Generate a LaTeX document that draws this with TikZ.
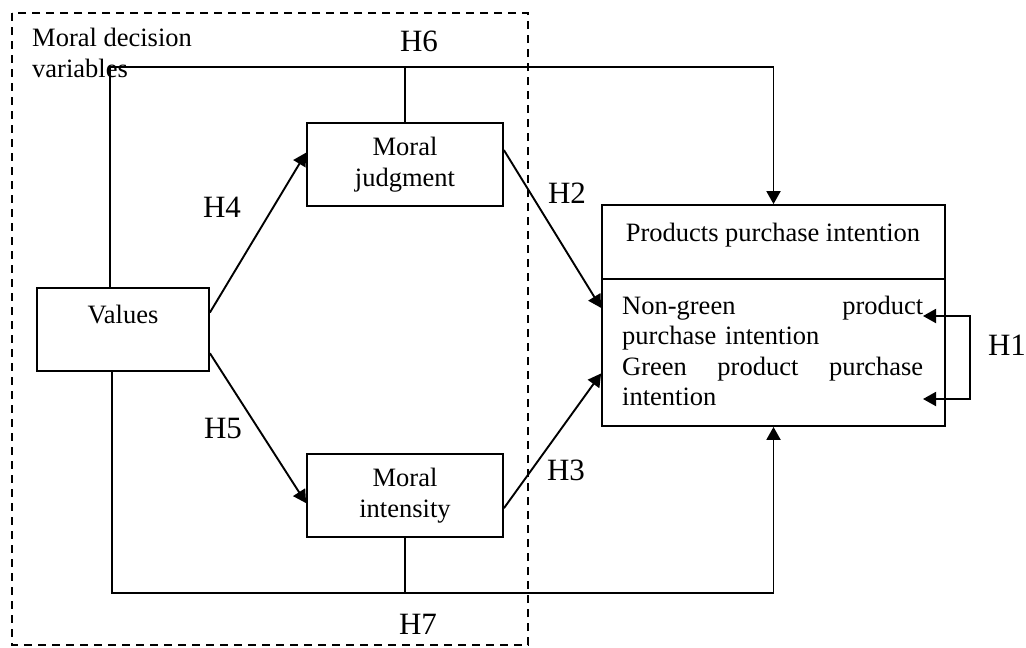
\documentclass[tikz,border=0pt]{standalone}
\usepackage{fontspec}
\setmainfont{Liberation Serif}
\usetikzlibrary{arrows.meta,calc,positioning}

\tikzset{
  txt/.style={font=\fontsize{26.5}{30.5}\selectfont},
  box/.style={draw, line width=1.8pt, inner sep=0pt, align=center, txt},
  hyp/.style={font=\fontsize{31}{36}\selectfont, inner sep=0pt},
  link/.style={line width=1.9pt, ->},
}

\begin{document}
\begin{tikzpicture}[x=1pt, y=-1pt, >={Triangle[length=13pt,width=14pt]}]
  \useasboundingbox (0,0) rectangle (1026,648);

  % Dashed frame of the moral decision variables
  \draw[dash pattern=on 8pt off 6pt, line width=1.7pt] (12,13) rectangle (528,645);
  \node[txt, anchor=base west, align=left, inner sep=0pt] (frame) at (32,77) {Moral decision\\variables};

  % Boxes
  \node[box, minimum width=172pt, minimum height=83pt, text height=18pt, text depth=31pt] (values) at (123,329.5) {Values};
  \node[box, minimum width=196pt, minimum height=83pt] (judg) at (405,164.5) {Moral\\judgment};
  \node[box, minimum width=196pt, minimum height=83pt] (inten) at (405,495.5) {Moral\\intensity};
  \node[box, minimum width=343pt, minimum height=221pt] (prod) at (773.5,315.5) {};
  \node[txt, anchor=base, inner sep=0pt] (title) at (773,241) {Products purchase intention};
  \coordinate (div) at (773,279);
  \draw[line width=1.8pt] (prod.west |- div) -- (prod.east |- div);
  \node[txt, anchor=base west, text width=301pt, align=left, inner sep=0pt] (kinds) at (622,314)
    {Non-green\hfill product\\purchase intention\\Green\hfill product\hfill purchase\\intention};

  % Direct effects
  \draw[link] ($(values.north east)!.30!(values.south east)$) -- ($(judg.north west)!.36!(judg.south west)$);
  \draw[link] ($(values.north east)!.78!(values.south east)$) -- ($(inten.north west)!.59!(inten.south west)$);
  \draw[link] ($(judg.north east)!.33!(judg.south east)$) -- ($(prod.north west)!.466!(prod.south west)$);
  \draw[link] ($(inten.north east)!.65!(inten.south east)$) -- ($(prod.north west)!.76!(prod.south west)$);

  % Moderating paths
  \coordinate (h6) at (405,67);
  \coordinate (h7) at (405,593);
  \draw[link] ([xshift=-13pt]values.north) |- (h6) -| (prod.north);
  \draw[line width=1.8pt] (judg.north) -- (h6);
  \draw[link] ([xshift=-11pt]values.south) |- (h7) -| (prod.south);
  \draw[line width=1.8pt] (inten.south) -- (h7);

  % Link between the two intentions
  \coordinate (ngreen) at (923,316);
  \coordinate (green) at (923,399);
  \draw[link, <->] (ngreen) -- ++(47,0) |- (green);

  % Hypotheses
  \node[hyp] (lh1) at (1007,345) {H1};
  \node[hyp] (lh2) at (567,193) {H2};
  \node[hyp] (lh3) at (566,470) {H3};
  \node[hyp] (lh4) at (222,207) {H4};
  \node[hyp] (lh5) at (223,428) {H5};
  \node[hyp] (lh6) at (419,41) {H6};
  \node[hyp] (lh7) at (418,624) {H7};
\end{tikzpicture}
\end{document}
